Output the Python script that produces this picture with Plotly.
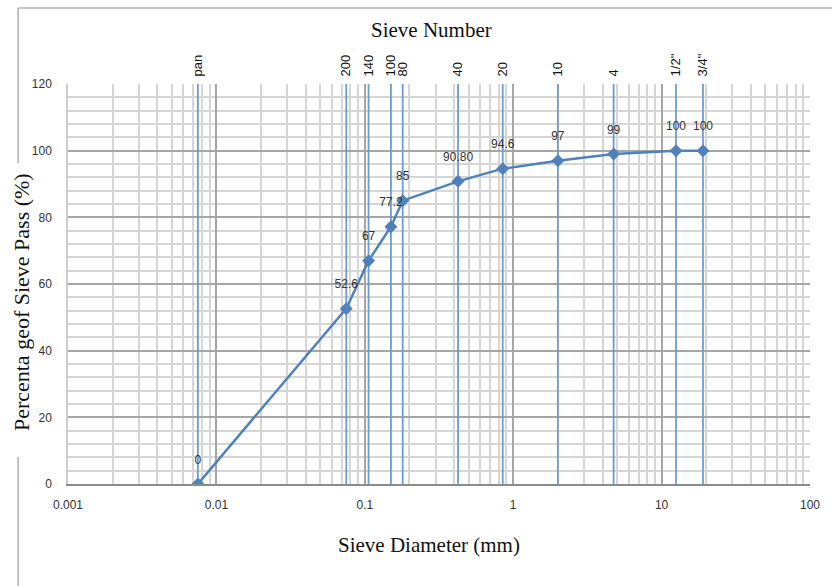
import numpy as np
import plotly.graph_objects as go

# ---- data ----
sieve_labels = ["pan", "200", "140", "100", "80", "40", "20", "10", "4", "1/2\"", "3/4\""]
diameter_mm = [0.0075, 0.075, 0.106, 0.15, 0.18, 0.425, 0.85, 2.0, 4.75, 12.5, 19.0]
percent_pass = [0, 52.6, 67, 77.2, 85, 90.8, 94.6, 97, 99, 100, 100]
point_labels = ["0", "52.6", "67", "77.2", "85", "90.80", "94.6", "97", "99", "100", "100"]
x_ticks = [0.001, 0.01, 0.1, 1, 10, 100]
x_tick_text = ["0.001", "0.01", "0.1", "1", "10", "100"]
y_range = [0, 120]

BLUE = "#4f81bd"
VLINE = "#6f9bd3"
SANS = "Liberation Sans, Arial, sans-serif"
TICKFONT = dict(family=SANS, size=12, color="#333333")
SERIF = "Liberation Serif, Times New Roman, serif"

fig = go.Figure()

# vertical sieve lines
vx, vy = [], []
for d in diameter_mm:
    vx += [d, d, None]
    vy += [y_range[0], y_range[1], None]
fig.add_trace(go.Scatter(x=vx, y=vy, mode="lines", line=dict(color=VLINE, width=1.8),
                         hoverinfo="skip", showlegend=False))

# gradation curve
fig.add_trace(go.Scatter(x=diameter_mm, y=percent_pass, mode="lines+markers",
                         line=dict(color=BLUE, width=2.5),
                         marker=dict(symbol="diamond", size=10, color=BLUE),
                         showlegend=False))

# data labels (transparent marker used to offset text)
fig.add_trace(go.Scatter(x=diameter_mm, y=percent_pass, mode="markers+text",
                         text=point_labels, textposition="top center",
                         marker=dict(size=26, color="rgba(0,0,0,0)"),
                         textfont=dict(family=SANS, size=12, color="#333333"),
                         hoverinfo="skip", showlegend=False))

# top axis carrier (invisible trace)
fig.add_trace(go.Scatter(x=diameter_mm, y=percent_pass, xaxis="x2", mode="markers",
                         marker=dict(size=1, color="rgba(0,0,0,0)"), hoverinfo="skip",
                         showlegend=False))

fig.update_layout(
    width=832, height=586,
    margin=dict(l=68, r=20, t=84, b=102),
    paper_bgcolor="white", plot_bgcolor="white",
    xaxis=dict(type="log", range=[-3, 2], tickmode="array", tickvals=x_ticks,
               ticktext=x_tick_text, tickfont=TICKFONT,
               showgrid=True, gridcolor="#a6a6a6", gridwidth=1.5,
               minor=dict(dtick="D1", showgrid=True, gridcolor="#d6d6d6", gridwidth=1.5),
               ticks="outside", ticklen=9, tickcolor="rgba(0,0,0,0)",
               showline=True, linecolor="#8c8c8c", linewidth=1.5, mirror=False,
               zeroline=False),
    xaxis2=dict(type="log", range=[-3, 2], overlaying="x", side="top",
                tickmode="array", tickvals=diameter_mm, ticktext=sieve_labels,
                tickangle=-90, tickfont=dict(family=SANS, size=13, color="#111111"),
                showgrid=False, ticks="outside", ticklen=4, tickcolor="rgba(0,0,0,0)",
                showline=False, zeroline=False),
    yaxis=dict(range=y_range, dtick=20, tickfont=TICKFONT,
               showgrid=True, gridcolor="#a6a6a6", gridwidth=1.5,
               minor=dict(dtick=4, showgrid=True, gridcolor="#d6d6d6", gridwidth=1.5),
               ticks="outside", ticklen=12, tickcolor="rgba(0,0,0,0)",
               showline=True, linecolor="#cccccc", linewidth=1.5, zeroline=False),
    annotations=[
        dict(text="Sieve Number", xref="paper", yref="paper", x=0.49, y=1.135,
             xanchor="center", yanchor="middle", showarrow=False,
             font=dict(family=SERIF, size=21, color="#111111")),
        dict(text="Sieve Diameter (mm)", xref="paper", yref="paper", x=0.487, y=-0.1525,
             xanchor="center", yanchor="middle", showarrow=False,
             font=dict(family=SERIF, size=21, color="#111111")),
        dict(text="Percenta geof Sieve Pass (%)", xref="paper", yref="paper", x=-0.0632, y=0.455,
             xanchor="center", yanchor="middle", textangle=-90, showarrow=False,
             font=dict(family=SERIF, size=22, color="#111111")),
    ],
    shapes=[
        dict(type="line", xref="paper", yref="paper", x0=-0.0672, x1=1.03, y0=1.19, y1=1.19,
             line=dict(color="#b0b0b0", width=1.5)),
        dict(type="line", xref="paper", yref="paper", x0=-0.0672, x1=-0.0672, y0=1.19, y1=0.8025,
             line=dict(color="#b0b0b0", width=1.5)),
        dict(type="line", xref="paper", yref="paper", x0=-0.0672, x1=-0.0672, y0=0.0675, y1=-0.26,
             line=dict(color="#b0b0b0", width=1.5)),
    ],
)

fig.write_html("out.html")
